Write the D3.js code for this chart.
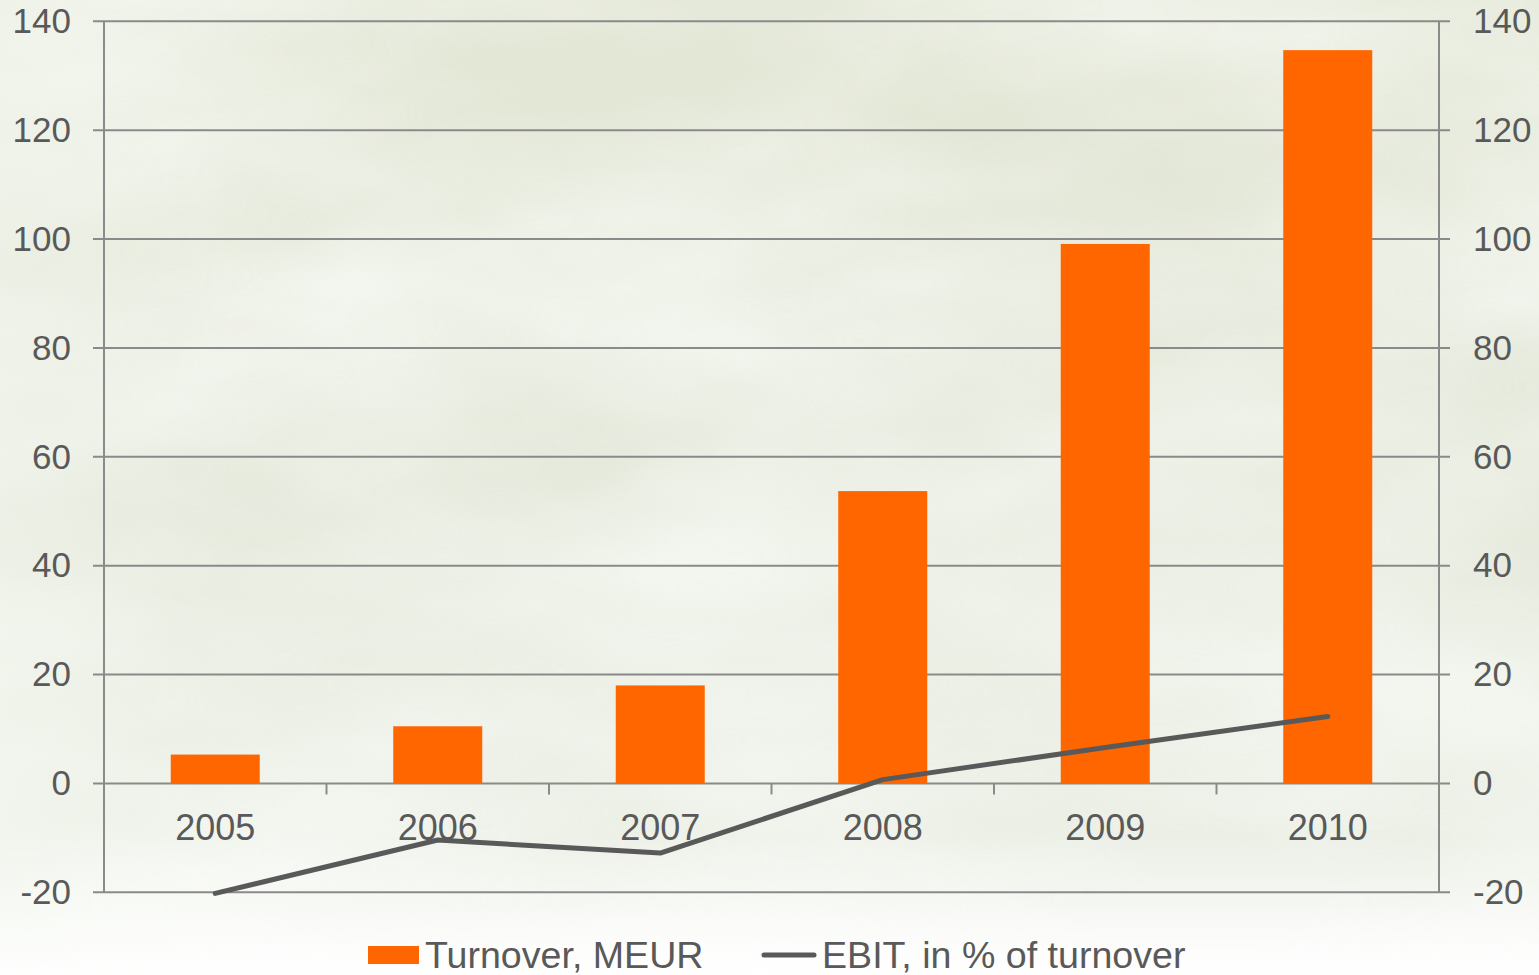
<!DOCTYPE html>
<html>
<head>
<meta charset="utf-8">
<script src="https://cdn.jsdelivr.net/npm/d3@7"></script>
<style>
    html, body { margin: 0; padding: 0; background: #fff; }
    svg { display: block; font-family: "Liberation Sans", Arial, sans-serif; }
</style>
</head>
<body>
<svg id="chart" width="1539" height="975"></svg>
<script>
// Data
const years = ['2005', '2006', '2007', '2008', '2009', '2010'];
const turnover = [5.3, 10.5, 18.0, 53.7, 99.1, 134.7];
const ebit = [-20.2, -10.4, -12.8, 0.7, 6.6, 12.3];
const yTicks = [-20, 0, 20, 40, 60, 80, 100, 120, 140];
const legendLabels = ['Turnover, MEUR', 'EBIT, in % of turnover'];

/**
 * Visual configs.
 */
const W = 1539, H = 975,
    margin = { top: 21.3, right: 100, bottom: 82.7, left: 104 },
    width = W - margin.left - margin.right,
    height = H - margin.top - margin.bottom,
    barColor = '#ff6600',
    lineColor = '#595959',
    gridColor = '#8a8a8a',
    textColor = '#595959';

const svg = d3.select('#chart');

// Background: hazy cloud texture
const defs = svg.append('defs');
const bg = defs.append('linearGradient').attr('id', 'bg').attr('x1', 0).attr('y1', 0).attr('x2', 0).attr('y2', 1);
[[0, '#e3e7d6'], [0.3, '#e3e7d8'], [0.6, '#e8ece0'], [0.86, '#ebefe5'], [0.93, '#f4f6f1'], [1, '#fcfcfb']]
    .forEach(s => bg.append('stop').attr('offset', s[0]).attr('stop-color', s[1]));

const clouds = defs.append('filter').attr('id', 'clouds')
    .attr('x', 0).attr('y', 0).attr('width', '100%').attr('height', '100%');
clouds.append('feTurbulence').attr('type', 'fractalNoise')
    .attr('baseFrequency', '0.0022 0.005').attr('numOctaves', 4).attr('seed', 11);
clouds.append('feColorMatrix').attr('type', 'matrix')
    .attr('values', '0 0 0 0 0.96  0 0 0 0 0.98  0 0 0 0 0.95  1.6 0 0 0 -0.4');

const fade = defs.append('linearGradient').attr('id', 'fade').attr('x1', 0).attr('y1', 0).attr('x2', 0).attr('y2', 1);
[[0, '#ffffff', 0], [0.55, '#ffffff', 0.15], [1, '#ffffff', 0.85]]
    .forEach(s => fade.append('stop').attr('offset', s[0]).attr('stop-color', s[1]).attr('stop-opacity', s[2]));

const leftHaze = defs.append('linearGradient').attr('id', 'leftHaze').attr('x1', 0).attr('y1', 0).attr('x2', 1).attr('y2', 0);
[[0, '#f2f6ee', 0.5], [0.12, '#f2f6ee', 0]]
    .forEach(s => leftHaze.append('stop').attr('offset', s[0]).attr('stop-color', s[1]).attr('stop-opacity', s[2]));

svg.append('rect').attr('width', W).attr('height', H).attr('fill', 'url(#bg)');
svg.append('rect').attr('width', W).attr('height', H).attr('filter', 'url(#clouds)').attr('opacity', 0.7);
svg.append('rect').attr('width', W).attr('height', H).attr('fill', 'url(#leftHaze)');
svg.append('rect').attr('y', 820).attr('width', W).attr('height', H - 820).attr('fill', 'url(#fade)');

/**
 * D3.
 */
const xScale = d3.scaleBand().domain(years).range([0, width]).paddingInner(0.6).paddingOuter(0.3);
const yScale = d3.scaleLinear().domain([-20, 140]).range([height, 0]);
const step = xScale.step();

const g = svg.append('g').attr('transform', 'translate(' + margin.left + ',' + margin.top + ')');

// Gridlines (with ticks poking out on both sides)
g.append('g').attr('class', 'grid')
    .selectAll('line').data(yTicks).join('line')
    .attr('x1', -11).attr('x2', width + 11)
    .attr('y1', d => yScale(d)).attr('y2', d => yScale(d))
    .attr('stroke', gridColor).attr('stroke-width', 2);

// Left and right axis lines
g.append('line').attr('x1', 0).attr('x2', 0).attr('y1', 0).attr('y2', height)
    .attr('stroke', gridColor).attr('stroke-width', 2);
g.append('line').attr('x1', width).attr('x2', width).attr('y1', 0).attr('y2', height)
    .attr('stroke', gridColor).attr('stroke-width', 2);

// Category separator ticks on the zero line
g.append('g').selectAll('line').data(years.slice(1)).join('line')
    .attr('x1', (d, i) => (i + 1) * step).attr('x2', (d, i) => (i + 1) * step)
    .attr('y1', yScale(0)).attr('y2', yScale(0) + 11)
    .attr('stroke', gridColor).attr('stroke-width', 2);

// Y labels, both sides (plain hyphen for negatives)
const fmt = d => String(d);
const yLeft = d3.axisLeft(yScale).tickValues(yTicks).tickFormat(fmt).tickSize(0).tickPadding(33);
const yRight = d3.axisRight(yScale).tickValues(yTicks).tickFormat(fmt).tickSize(0).tickPadding(34);
[[yLeft, 0], [yRight, width]].forEach(([ax, tx]) => {
    const a = g.append('g').attr('transform', 'translate(' + tx + ',0)').call(ax);
    a.select('.domain').remove();
    a.selectAll('text').attr('fill', textColor).style('font-size', '35px')
        .style('font-family', '"Liberation Sans", Arial, sans-serif');
});

// Bars
g.append('g').selectAll('rect').data(years).join('rect')
    .attr('x', d => xScale(d))
    .attr('width', xScale.bandwidth())
    .attr('y', (d, i) => yScale(turnover[i]))
    .attr('height', (d, i) => yScale(0) - yScale(turnover[i]))
    .attr('fill', barColor);

// Year labels
g.append('g').selectAll('text').data(years).join('text')
    .attr('x', d => xScale(d) + xScale.bandwidth() / 2)
    .attr('y', yScale(0) + 57)
    .attr('text-anchor', 'middle')
    .attr('fill', textColor).style('font-size', '36px')
    .text(d => d);

// EBIT line
const line = d3.line()
    .x((d, i) => xScale(years[i]) + xScale.bandwidth() / 2)
    .y(d => yScale(d));
g.append('path').datum(ebit)
    .attr('d', line)
    .attr('fill', 'none').attr('stroke', lineColor).attr('stroke-width', 5)
    .attr('stroke-linecap', 'round').attr('stroke-linejoin', 'round');

// Legend
const legend = svg.append('g').style('font-size', '37.6px').attr('fill', textColor);
legend.append('rect').attr('x', 368).attr('y', 946).attr('width', 51).attr('height', 18).attr('fill', barColor);
legend.append('text').attr('x', 425).attr('y', 968).text(legendLabels[0]);
legend.append('line').attr('x1', 764).attr('x2', 814).attr('y1', 955).attr('y2', 955)
    .attr('stroke', lineColor).attr('stroke-width', 5).attr('stroke-linecap', 'round');
legend.append('text').attr('x', 822).attr('y', 968).text(legendLabels[1]);
</script>
</body>
</html>
